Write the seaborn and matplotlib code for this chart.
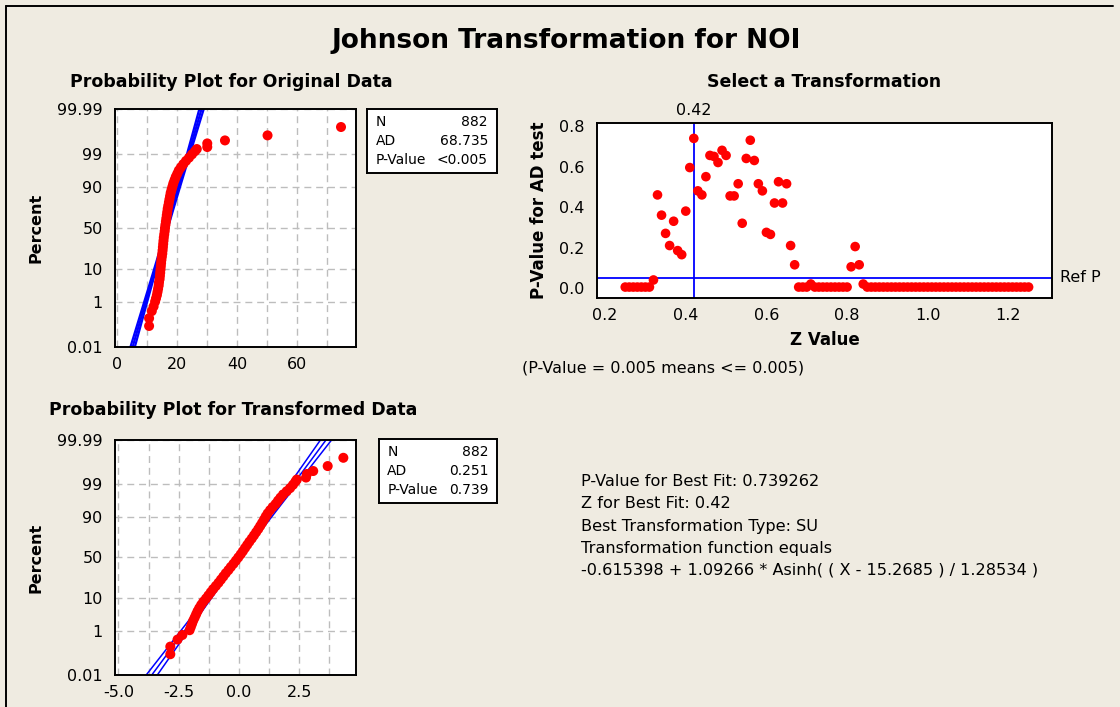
"""Johnson transformation summary chart (Minitab style)."""

import matplotlib
matplotlib.use('Agg')
import matplotlib.pyplot as plt
import seaborn as sns
import numpy as np
from statistics import NormalDist
from matplotlib.lines import Line2D
from matplotlib.ticker import FixedLocator, MultipleLocator, FormatStrFormatter

# ---- data ----
n_obs = 882

# plotting positions (percent) of the traced sample points
plot_pct = [0.11, 0.24, 0.47, 0.71, 1.07, 1.39, 1.79, 2.28, 2.87, 3.59,
            4.46, 5.48, 6.68, 8.08, 9.68, 11.5, 13.6, 15.9, 18.4, 21.2,
            24.2, 27.4, 30.9, 34.5, 38.2, 42.1, 46.0, 50.0, 54.0, 57.9,
            61.8, 65.5, 69.1, 72.6, 75.8, 78.8, 81.6, 84.1, 86.4, 88.5,
            90.3, 91.9, 93.3, 94.5, 95.5, 96.4, 97.1, 97.7, 98.2, 98.6,
            98.93, 99.18, 99.32, 99.43, 99.59, 99.69, 99.81, 99.92]

orig_values = [10.7, 10.7, 11.6, 12.2, 12.7, 13.0, 13.3, 13.5, 13.7, 13.9,
               14.0, 14.2, 14.3, 14.4, 14.5, 14.6, 14.7, 14.8, 14.95, 15.1,
               15.2, 15.3, 15.4, 15.5, 15.6, 15.75, 15.9, 16.0, 16.15, 16.3,
               16.45, 16.6, 16.75, 16.9, 17.1, 17.3, 17.5, 17.7, 17.9, 18.2,
               18.5, 18.8, 19.2, 19.6, 20.1, 20.6, 21.3, 22.1, 23.0, 24.0,
               25.0, 26.0, 26.6, 30.1, 30.1, 36.0, 50.2, 74.7]

trans_values = [-2.85, -2.85, -2.55, -2.35, -2.05, -2.00, -1.95, -1.90, -1.84, -1.78,
                -1.72, -1.65, -1.57, -1.48, -1.37, -1.27, -1.17, -1.07, -0.96, -0.85,
                -0.75, -0.65, -0.55, -0.44, -0.34, -0.23, -0.13, -0.03, 0.07, 0.16,
                0.25, 0.34, 0.43, 0.53, 0.62, 0.71, 0.80, 0.88, 0.96, 1.04,
                1.11, 1.19, 1.29, 1.40, 1.52, 1.62, 1.72, 1.83, 1.98, 2.12,
                2.24, 2.34, 2.40, 2.78, 2.82, 3.08, 3.68, 4.33]

# fitted normal line (mean, sd) for each probability plot
orig_fit = (16.7, 3.09)
trans_fit = (-0.005, 0.972)

orig_stats = [('N', '882'), ('AD', '68.735'), ('P-Value', '<0.005')]
trans_stats = [('N', '882'), ('AD', '0.251'), ('P-Value', '0.739')]

# transformation search: Z value vs AD-test p-value
z_values = [0.25, 0.26, 0.27, 0.28, 0.29, 0.30, 0.31, 0.32, 0.33, 0.34,
            0.35, 0.36, 0.37, 0.38, 0.39, 0.40, 0.41, 0.42, 0.43, 0.44,
            0.45, 0.46, 0.47, 0.48, 0.49, 0.50, 0.51, 0.52, 0.53, 0.54,
            0.55, 0.56, 0.57, 0.58, 0.59, 0.60, 0.61, 0.62, 0.63, 0.64,
            0.65, 0.66, 0.67, 0.68, 0.69, 0.70, 0.71, 0.72, 0.73, 0.74,
            0.75, 0.76, 0.77, 0.78, 0.79, 0.80, 0.81, 0.82, 0.83, 0.84,
            0.85, 0.86, 0.87, 0.88, 0.89, 0.90, 0.91, 0.92, 0.93, 0.94,
            0.95, 0.96, 0.97, 0.98, 0.99, 1.00, 1.01, 1.02, 1.03, 1.04,
            1.05, 1.06, 1.07, 1.08, 1.09, 1.10, 1.11, 1.12, 1.13, 1.14,
            1.15, 1.16, 1.17, 1.18, 1.19, 1.20, 1.21, 1.22, 1.23, 1.24, 1.25]

p_values = [0.005, 0.005, 0.005, 0.005, 0.005, 0.005, 0.005, 0.04, 0.46, 0.36,
            0.27, 0.21, 0.33, 0.185, 0.165, 0.38, 0.595, 0.739, 0.48, 0.46,
            0.55, 0.655, 0.65, 0.62, 0.68, 0.655, 0.455, 0.455, 0.515, 0.32,
            0.64, 0.73, 0.63, 0.515, 0.48, 0.275, 0.265, 0.42, 0.525, 0.42,
            0.515, 0.21, 0.115, 0.005, 0.005, 0.005, 0.02, 0.005, 0.005, 0.005,
            0.005, 0.005, 0.005, 0.005, 0.005, 0.005, 0.105, 0.205, 0.115, 0.02,
            0.005, 0.005, 0.005, 0.005, 0.005, 0.005, 0.005, 0.005, 0.005, 0.005,
            0.005, 0.005, 0.005, 0.005, 0.005, 0.005, 0.005, 0.005, 0.005, 0.005,
            0.005, 0.005, 0.005, 0.005, 0.005, 0.005, 0.005, 0.005, 0.005, 0.005,
            0.005, 0.005, 0.005, 0.005, 0.005, 0.005, 0.005, 0.005, 0.005, 0.005, 0.005]

best_z = 0.42
ref_p = 0.05

pct_ticks = [0.01, 1, 10, 50, 90, 99, 99.99]
pct_labels = ['0.01', '1', '10', '50', '90', '99', '99.99']

info_lines = ['P-Value for Best Fit: 0.739262',
              'Z for Best Fit: 0.42',
              'Best Transformation Type: SU',
              'Transformation function equals',
              '-0.615398 + 1.09266 * Asinh( ( X - 15.2685 ) / 1.28534 )']

# ---- styling ----
sns.set_style('white')
plt.rcParams['font.family'] = ['DejaVu Sans']
plt.rcParams['axes.unicode_minus'] = False
plt.rcParams['text.color'] = 'black'
plt.rcParams['axes.labelcolor'] = 'black'
plt.rcParams['xtick.color'] = 'black'
plt.rcParams['ytick.color'] = 'black'

BG = '#EFEBE1'
RED = '#FF0000'
BLUE = '#0000FF'
GRID = '#BDBDBD'
W, H = 1120, 707


def box(left, top, right, bottom):
    return [left / W, 1 - bottom / H, (right - left) / W, (bottom - top) / H]


_inv = np.vectorize(NormalDist().inv_cdf, otypes=[float])
_cdf = np.vectorize(NormalDist().cdf, otypes=[float])


def pct_to_z(p):
    p = np.clip(np.asarray(p, dtype=float), 1e-9, 100 - 1e-9)
    return _inv(p / 100.0)


def z_to_pct(z):
    return _cdf(np.asarray(z, dtype=float)) * 100.0


def style_frame(ax):
    ax.set_facecolor('white')
    for sp in ax.spines.values():
        sp.set_visible(True)
        sp.set_color('black')
        sp.set_linewidth(1.4)
    ax.tick_params(which='major', direction='out', length=4, width=1.1,
                   color='black', labelcolor='black', labelsize=11.5, pad=3)
    ax.tick_params(axis='y', pad=5)


def prob_plot(ax, values, fit, xlim, major, minor, fmt, line_w):
    ax.set_yscale('function', functions=(pct_to_z, z_to_pct))
    ax.set_ylim(0.01, 99.99)
    ax.set_xlim(*xlim)
    ax.yaxis.set_major_locator(FixedLocator(pct_ticks))
    ax.set_yticklabels(pct_labels)
    ax.yaxis.set_minor_locator(FixedLocator([]))
    ax.xaxis.set_major_locator(MultipleLocator(major))
    ax.xaxis.set_minor_locator(MultipleLocator(minor))
    ax.xaxis.set_major_formatter(FormatStrFormatter(fmt))
    ax.grid(True, which='both', color=GRID, linestyle=(0, (5, 3.5)), linewidth=1.0)
    ax.tick_params(axis='x', which='minor', length=0)
    ax.set_axisbelow(True)

    mu, sd = fit
    zz = np.linspace(-3.9, 3.9, 80)
    hw = 2.5 * sd * np.sqrt(1.0 / n_obs + zz ** 2 / (2.0 * (n_obs - 1)))
    yy = z_to_pct(zz)
    for off in (-hw, 0, hw):
        ax.plot(mu + sd * zz + off, yy, color=BLUE, lw=line_w, zorder=2)

    sns.scatterplot(x=values, y=plot_pct, ax=ax, color=RED, s=52,
                    edgecolor='none', linewidth=0, zorder=3, legend=False)
    ax.set_xlabel('')
    ax.set_ylabel('Percent', fontsize=11.5, fontweight='bold')
    style_frame(ax)


def stats_box(fig, rect, rows):
    bx = fig.add_axes(rect)
    bx.set_facecolor('white')
    bx.set_xticks([])
    bx.set_yticks([])
    for sp in bx.spines.values():
        sp.set_visible(True)
        sp.set_color('black')
        sp.set_linewidth(1.4)
    for i, (k, v) in enumerate(rows):
        y = 0.80 - i * 0.30
        bx.text(0.07, y, k, fontsize=10, ha='left', va='center', transform=bx.transAxes)
        bx.text(0.93, y, v, fontsize=10, ha='right', va='center', transform=bx.transAxes)


fig = plt.figure(figsize=(W / 100, H / 100), dpi=100, facecolor=BG)

# outer frame
fig.add_artist(Line2D([6 / W, 6 / W], [0, 1 - 6 / H], color='black', lw=1.4))
fig.add_artist(Line2D([6 / W, 1113 / W], [1 - 6 / H, 1 - 6 / H], color='black', lw=1.4))

fig.text(566 / W, 1 - 41 / H, 'Johnson Transformation for NOI',
         fontsize=19, fontweight='bold', ha='center', va='center')
fig.text(231 / W, 1 - 82 / H, 'Probability Plot for Original Data',
         fontsize=12.5, fontweight='bold', ha='center', va='center')
fig.text(824 / W, 1 - 82 / H, 'Select a Transformation',
         fontsize=12.5, fontweight='bold', ha='center', va='center')
fig.text(233 / W, 1 - 410 / H, 'Probability Plot for Transformed Data',
         fontsize=12.5, fontweight='bold', ha='center', va='center')

# original data probability plot
ax1 = fig.add_axes(box(115, 109, 356, 347))
prob_plot(ax1, orig_values, orig_fit, (-0.67, 79.7), 20, 10, '%d', 1.6)
ax1.yaxis.set_label_coords(-(115 - 44) / 241, 0.5)
stats_box(fig, box(367, 109, 497, 173), orig_stats)

# transformed data probability plot
ax2 = fig.add_axes(box(115, 440, 356, 675))
prob_plot(ax2, trans_values, trans_fit, (-5.145, 4.855), 2.5, 1.25, '%.1f', 1.1)
ax2.yaxis.set_label_coords(-(115 - 44) / 241, 0.5)
stats_box(fig, box(379, 439, 497, 503), trans_stats)

# transformation selection scatter
ax3 = fig.add_axes(box(597, 123, 1052, 298))
sns.scatterplot(x=z_values, y=p_values, ax=ax3, color=RED, s=48,
                edgecolor='none', linewidth=0, zorder=3, legend=False)
ax3.axvline(best_z, color=BLUE, lw=1.3, zorder=2)
ax3.axhline(ref_p, color=BLUE, lw=1.3, zorder=2)
ax3.set_xlim(0.18, 1.308)
ax3.set_ylim(-0.049, 0.815)
ax3.set_xticks([0.2, 0.4, 0.6, 0.8, 1.0, 1.2])
ax3.set_yticks([0.0, 0.2, 0.4, 0.6, 0.8])
ax3.xaxis.set_major_formatter(FormatStrFormatter('%.1f'))
ax3.yaxis.set_major_formatter(FormatStrFormatter('%.1f'))
ax3.grid(False)
style_frame(ax3)
ax3.set_xlabel('Z Value', fontsize=12, fontweight='bold')
ax3.set_ylabel('P-Value for AD test', fontsize=12, fontweight='bold')
ax3.xaxis.set_label_coords(0.5, -(331 - 298) / 175)
ax3.yaxis.set_label_coords(-(597 - 548) / 455, 0.5)
ax3.text(best_z, 1.073, '0.42', transform=ax3.get_xaxis_transform(),
         ha='center', va='center', fontsize=11.5)
ax3.text(1.018, ref_p, 'Ref P', transform=ax3.get_yaxis_transform(),
         ha='left', va='center', fontsize=11.5)

fig.text(522 / W, 1 - 368 / H, '(P-Value = 0.005 means <= 0.005)',
         fontsize=11.5, ha='left', va='center')

for i, line in enumerate(info_lines):
    fig.text(581 / W, 1 - (482 + 22 * i) / H, line, fontsize=11.6,
             ha='left', va='center')

fig.savefig('out.png', dpi=100, facecolor=BG)
